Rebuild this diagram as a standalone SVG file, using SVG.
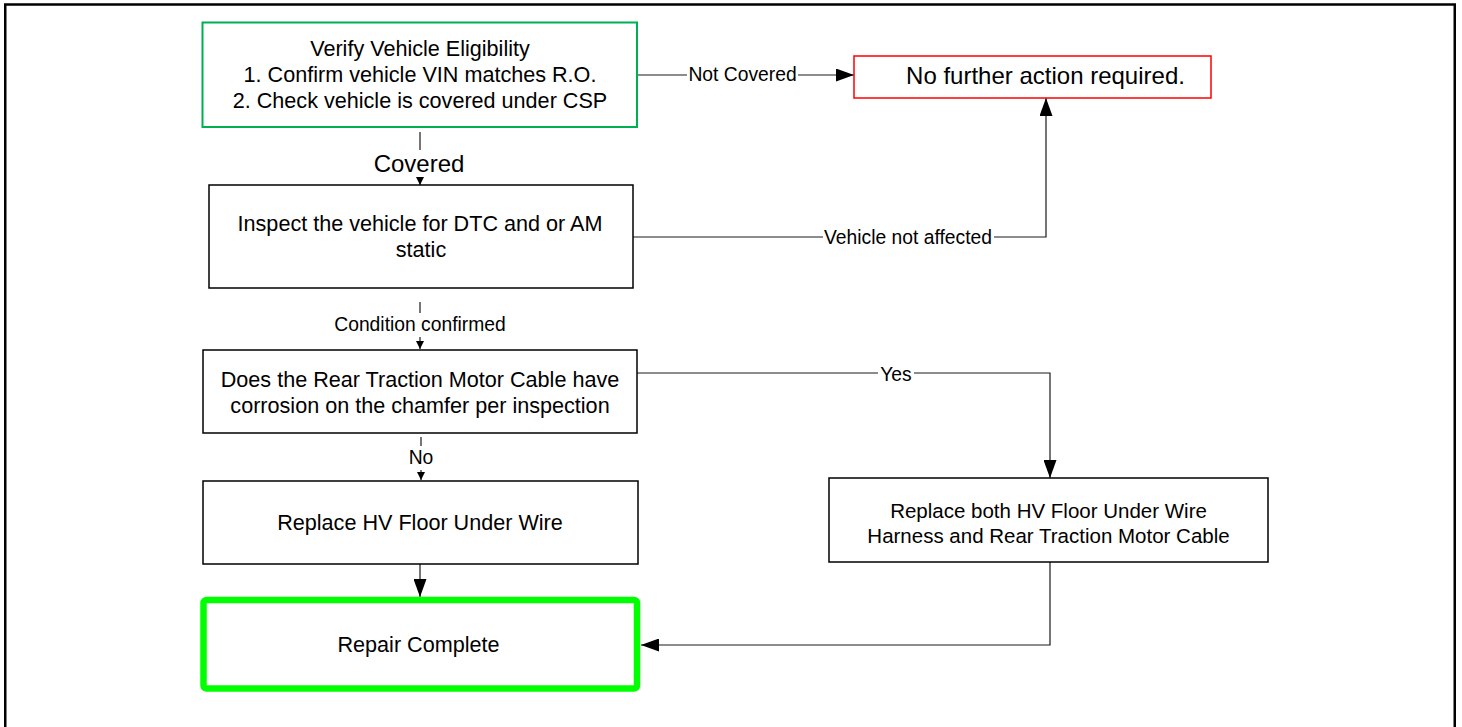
<svg xmlns="http://www.w3.org/2000/svg" width="1462" height="727" viewBox="0 0 1462 727">
<defs>
<style>
text{font-family:"Liberation Sans",Arial,sans-serif;fill:#000;text-anchor:middle}
.box{fill:#fff;stroke:#000;stroke-width:1.5}
.t{font-size:21.6px}
.lbl{font-size:19.3px}
.bg{fill:#fff;stroke:none}
.conn{fill:none;stroke:#1a1a1a;stroke-width:1.2}
</style>
<marker id="big" markerUnits="userSpaceOnUse" viewBox="0 0 18 13" markerWidth="18" markerHeight="13" refX="18" refY="6.5" orient="auto"><path d="M0,0 L18,6.5 L0,13 z" fill="#000"/></marker>
<marker id="small" markerUnits="userSpaceOnUse" viewBox="0 0 8 8" markerWidth="8" markerHeight="8" refX="8" refY="4" orient="auto"><path d="M0,0 L8,4 L0,8 z" fill="#000"/></marker>
</defs>
<rect width="1462" height="727" fill="#fff"/>
<rect x="5.25" y="4.5" width="1449.5" height="760" fill="none" stroke="#000" stroke-width="2.5"/>

<g id="connectors">
<path class="conn" d="M637,75 H854" marker-end="url(#big)"/>
<path class="conn" d="M420,132 V185" marker-end="url(#small)"/>
<path class="conn" d="M633,237 H1046 V98" marker-end="url(#big)"/>
<path class="conn" d="M420,302 V349" marker-end="url(#small)"/>
<path class="conn" d="M637,373 H1050 V478" marker-end="url(#big)"/>
<path class="conn" d="M421,437 V480" marker-end="url(#small)"/>
<path class="conn" d="M420,564 V597" marker-end="url(#big)"/>
<path class="conn" d="M1050,562 V645 H641" marker-end="url(#big)"/>
<rect class="bg" x="687" y="64" width="111" height="21"/>
<text class="lbl" x="742.5" y="81.2">Not Covered</text>
<rect class="bg" x="372" y="150" width="94" height="27"/>
<text x="419" y="171.6" style="font-size:24px">Covered</text>
<rect class="bg" x="823" y="227" width="171" height="21"/>
<text class="lbl" x="908" y="243.6">Vehicle not affected</text>
<rect class="bg" x="334" y="313" width="172" height="24"/>
<text class="lbl" x="420" y="330.9">Condition confirmed</text>
<rect class="bg" x="878" y="363" width="36" height="21"/>
<text class="lbl" x="896" y="380.9">Yes</text>
<rect class="bg" x="407" y="446" width="28" height="24"/>
<text class="lbl" x="421" y="463.9">No</text>
</g>

<g id="verify">
<rect x="202.5" y="22.5" width="434.5" height="104.5" fill="#fff" stroke="#00b050" stroke-width="2"/>
<text class="t" x="420" y="55.8">Verify Vehicle Eligibility</text>
<text class="t" x="420" y="81.8">1. Confirm vehicle VIN matches R.O.</text>
<text class="t" x="420" y="107.8">2. Check vehicle is covered under CSP</text>
</g>

<g id="no-action">
<rect x="854" y="56" width="357" height="42" fill="#fff" stroke="#ff0000" stroke-width="1.5"/>
<text x="1045.5" y="83.6" style="font-size:24px">No further action required.</text>
</g>

<g id="inspect">
<rect class="box" x="209" y="185" width="424" height="103"/>
<text class="t" x="420" y="231">Inspect the vehicle for DTC and or AM</text>
<text class="t" x="421" y="257">static</text>
</g>

<g id="corrosion">
<rect class="box" x="203" y="350" width="434" height="83"/>
<text class="t" x="420" y="386.8">Does the Rear Traction Motor Cable have</text>
<text class="t" x="420" y="412.8">corrosion on the chamfer per inspection</text>
</g>

<g id="replace-floor">
<rect class="box" x="203" y="481" width="435" height="83"/>
<text class="t" x="420" y="529.5">Replace HV Floor Under Wire</text>
</g>

<g id="replace-both">
<rect class="box" x="829" y="478" width="439" height="84"/>
<text x="1048.5" y="517.5" style="font-size:20.5px">Replace both HV Floor Under Wire</text>
<text x="1048.5" y="542.5" style="font-size:20.5px">Harness and Rear Traction Motor Cable</text>
</g>

<g id="repair-complete">
<rect x="203.5" y="600" width="433.5" height="88.5" rx="3" fill="#fff" stroke="#00ff00" stroke-width="6.5"/>
<text class="t" x="418.5" y="651.8">Repair Complete</text>
</g>
</svg>
